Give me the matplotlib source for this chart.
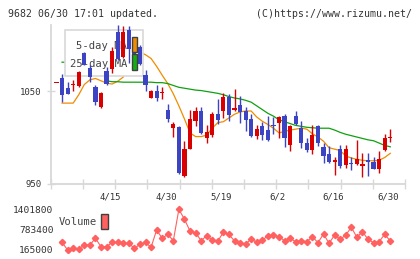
import numpy as np
import matplotlib
matplotlib.use("Agg")
import matplotlib.pyplot as plt
from matplotlib.patches import Rectangle

# daily prices, 2026-04-01 .. 2026-06-30 (one per trading day)
opens = [1059, 1064, 1053, 1056, 1055, 1091, 1075, 1054, 1033, 1071,
         1074, 1113, 1087, 1116, 1100, 1097, 1067, 1043, 1050, 1048,
         1030, 1010, 1011, 959, 988, 1018, 1029, 1000, 1003, 1025,
         1029, 1044, 1030, 1035, 1029, 1020, 1002, 1012, 1008, 1013,
         1016, 1023, 992, 1023, 1010, 994, 987, 1012, 990, 982,
         974, 988, 970, 973, 971, 969, 976, 974, 966, 987, 999]
highs = [1059, 1068, 1060, 1062, 1072, 1092, 1078, 1056, 1049, 1076,
         1097, 1121, 1120, 1120, 1104, 1099, 1073, 1051, 1056, 1054,
         1036, 1017, 1012, 996, 1030, 1033, 1033, 1013, 1027, 1041,
         1048, 1047, 1052, 1045, 1033, 1025, 1013, 1017, 1023, 1022,
         1023, 1025, 1013, 1028, 1018, 999, 1013, 1013, 994, 991,
         979, 992, 992, 979, 997, 983, 983, 979, 986, 1004, 1009]
lows = [1059, 1038, 1047, 1050, 1054, 1078, 1060, 1035, 1032, 1057,
        1069, 1083, 1086, 1080, 1079, 1078, 1050, 1042, 1039, 1041,
        1017, 1001, 961, 957, 988, 1012, 1004, 994, 1001, 1015,
        1021, 1018, 1029, 1016, 1007, 1001, 998, 997, 996, 1004,
        999, 990, 986, 1013, 989, 984, 982, 991, 973, 973,
        960, 967, 967, 965, 970, 958, 959, 966, 962, 986, 995]
closes = [1059, 1046, 1047, 1057, 1070, 1078, 1065, 1038, 1048, 1058,
          1093, 1084, 1113, 1095, 1082, 1079, 1056, 1050, 1042, 1049,
          1020, 1014, 962, 988, 1020, 1028, 1005, 1006, 1025, 1019,
          1044, 1024, 1032, 1027, 1019, 1002, 1009, 1003, 997, 1012,
          1022, 999, 1012, 1014, 994, 987, 1003, 994, 980, 974,
          976, 969, 988, 971, 977, 972, 974, 966, 977, 999, 1000]

ma5 = [np.nan, 1037, 1037, 1037, 1046, 1057, 1062, 1063.5, 1061, 1058.5,
       1057.5, 1060.5, 1065, 1075, 1084, 1092, 1089, 1085, 1076.5, 1067,
       1058, 1047, 1034, 1020, 1005, 1001, 1001, 1002.5, 1010, 1016,
       1017, 1021, 1025, 1027.5, 1028.5, 1028.5, 1022, 1017.5, 1014, 1010,
       1005, 1006.5, 1008, 1009, 1010, 1009, 1004, 1000.5, 996, 989,
       987.5, 986, 980, 978, 976.5, 975.5, 975, 975, 975.5, 978.5, 983]
ma25 = [np.nan, 1081, 1081, 1081, 1081, 1081, 1081, 1081, 1081, 1061,
        1060, 1060, 1059.5, 1059.5, 1059.5, 1059.5, 1059.5, 1059.5, 1059, 1059,
        1058, 1056, 1054, 1053, 1052, 1051, 1050.5, 1049.5, 1048.5, 1047.5,
        1046, 1044, 1042.5, 1041.5, 1040, 1038, 1034, 1030, 1026, 1023,
        1019, 1017, 1015, 1013, 1012, 1011, 1010.5, 1010, 1010, 1010,
        1008, 1005.5, 1003.5, 1002, 1000.5, 999, 997.5, 996.5, 994, 991.5, 990]

volume = [np.nan, 381000, 143000, 196000, 174000, 298000, 298000, 505000, 245000, 245000,
          381000, 381000, 351000, 351000, 196000, 320000, 381000, 227000, 762000, 505000,
          629000, 431000, 1401800, 1093000, 731000, 678000, 431000, 586000, 453000, 422000,
          691000, 623000, 422000, 351000, 329000, 483000, 381000, 453000, 576000, 607000,
          555000, 431000, 505000, 400000, 431000, 400000, 555000, 369000, 638000, 351000,
          607000, 474000, 607000, 845000, 536000, 709000, 474000, 369000, 400000, 629000, 422000]

date_pos = [10, 20, 30, 40, 50, 60]
date_labels = ["4/15", "4/30", "5/19", "6/2", "6/16", "6/30"]
price_ticks = [950, 1050]
vol_ticks = [165000, 783400, 1401800]

RED = "#d80000"
BLUE = "#3c44c4"
ORANGE = "#f08c00"
GREEN = "#10a010"
VOLC = "#ff6060"
GRID = "#d8d8d8"
TXT = "#333333"
MONO = "DejaVu Sans Mono"

W, H = 420, 259
fig = plt.figure(figsize=(W / 100, H / 100), dpi=100)

n = len(opens)
x = np.arange(n)
o = np.array(opens, float)
c = np.array(closes, float)
up = c >= o
cols = [RED if u else BLUE for u in up]

# price panel
ax = fig.add_axes([50.7 / W, 1 - 184 / H, (405 - 50.7) / W, (184 - 25) / H])
ax.set_xlim(-1.043, 62.65)
ax.set_ylim(950, 1121)

ax.plot(x, ma5, color=ORANGE, lw=0.9, zorder=2)
ax.plot(x, ma25, color=GREEN, lw=0.9, zorder=2)

ax.vlines(x, lows, highs, colors=cols, lw=1.0, zorder=4)
body = np.maximum(np.abs(c - o), 1.2)
ax.bar(x, body, bottom=np.minimum(o, c), width=0.76, color=cols, zorder=4.5)

# legend box (under candles, over the MA lines)
ax.add_patch(Rectangle((0.0404, 0.677), 0.2193, 0.29, transform=ax.transAxes,
                       facecolor="white", edgecolor=GRID, lw=1.2, zorder=3))
ax.text(0.0714, 0.868, "5-day MA", transform=ax.transAxes, family=MONO,
        fontsize=7.6, color="#444444", va="center", zorder=3.5)
ax.text(0.0545, 0.757, "25-day MA", transform=ax.transAxes, family=MONO,
        fontsize=7.6, color="#444444", va="center", zorder=3.5)
ax.add_patch(Rectangle((0.2286, 0.830), 0.0158, 0.0945, transform=ax.transAxes,
                       facecolor=ORANGE, edgecolor="#404040", lw=1.0, zorder=6))
ax.add_patch(Rectangle((0.2286, 0.719), 0.0158, 0.1005, transform=ax.transAxes,
                       facecolor="#10b010", edgecolor="#404040", lw=1.0, zorder=6))

for s in ["top", "right"]:
    ax.spines[s].set_visible(False)
for s in ["left", "bottom"]:
    ax.spines[s].set_color(GRID)
    ax.spines[s].set_linewidth(1.3)

ax.set_xticks(np.linspace(-1.043, 62.65, 12))
ax.set_xticklabels([])
ax.tick_params(axis="x", direction="inout", length=6.5, width=1.0, color=GRID)
ax.set_yticks(price_ticks)
ax.set_yticklabels([str(v) for v in price_ticks], family=MONO, fontsize=6.5, color=TXT)
ax.tick_params(axis="y", direction="inout", length=5.8, width=1.0, color=GRID, pad=3.5)

for p, lab in zip(date_pos, date_labels):
    ax.text(p - 0.35, -0.084, lab, transform=ax.get_xaxis_transform(), family=MONO,
            fontsize=6.5, color=TXT, ha="center", va="center")

# volume panel
vol_scale = (1401800 - 165000) / 40.0
ax2 = fig.add_axes([50.7 / W, 1 - 253 / H, (405 - 50.7) / W, 48 / H])
ax2.set_xlim(-1.043, 62.65)
ax2.set_ylim(165000 - 3.7 * vol_scale, 1401800 + 4.3 * vol_scale)
ax2.plot(x, volume, color=VOLC, lw=0.8, marker="D", ms=3.2, mec=VOLC, mfc=VOLC)
for s in ax2.spines.values():
    s.set_visible(False)
ax2.set_xticks([])
ax2.set_yticks(vol_ticks)
ax2.set_yticklabels([str(v) for v in vol_ticks], family=MONO, fontsize=6.8, color=TXT)
ax2.tick_params(axis="y", length=0, pad=-2.0)
ax2.text(0.0215, 0.64, "Volume", transform=ax2.transAxes, family=MONO,
         fontsize=7.6, color="#444444", va="center")
ax2.add_patch(Rectangle((0.142, 0.51), 0.019, 0.31, transform=ax2.transAxes,
                        facecolor=VOLC, edgecolor="#404040", lw=1.0))

fig.text(8.3 / W, 1 - 14 / H, "9682 06/30 17:01 updated.", family=MONO,
         fontsize=7.1, color=TXT, va="center")
fig.text(411.7 / W, 1 - 14 / H, "(C)https://www.rizumu.net/", family=MONO,
         fontsize=7.1, color=TXT, va="center", ha="right")

fig.savefig("out.png", dpi=100, facecolor="white")
